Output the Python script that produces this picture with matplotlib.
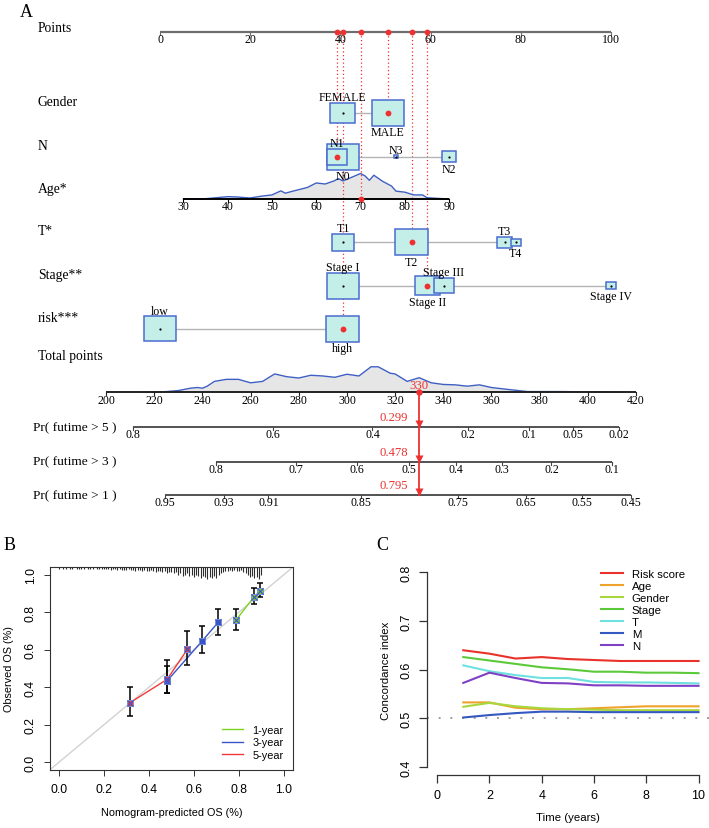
import numpy as np
import matplotlib
matplotlib.use("Agg")
import matplotlib.pyplot as plt
from matplotlib.patches import Rectangle
from matplotlib.lines import Line2D

plt.rcParams['font.family'] = ['Liberation Serif', 'DejaVu Serif']
SANS = ['Liberation Sans', 'DejaVu Sans']

# ======================= DATA =======================
points_ticks = [0, 20, 40, 60, 80, 100]

gender_levels = ['FEMALE', 'MALE']
gender_points = [40.5, 50.5]
gender_freq = [0.38, 0.62]

n_levels = ['N0', 'N1', 'N2', 'N3']
n_points = [40.6, 39.3, 64.1, 52.3]
n_freq = [0.63, 0.245, 0.116, 0.009]

t_levels = ['T1', 'T2', 'T3', 'T4']
t_points = [40.6, 55.8, 76.4, 78.9]
t_freq = [0.263, 0.573, 0.114, 0.05]

stage_levels = ['Stage I', 'Stage II', 'Stage III', 'Stage IV']
stage_points = [40.6, 59.3, 62.9, 100.0]
stage_freq = [0.495, 0.284, 0.181, 0.041]

risk_levels = ['low', 'high']
risk_points = [0.0, 40.5]
risk_freq = [0.49, 0.51]

age_ticks = [30, 40, 50, 60, 70, 80, 90]
age_scale_ages = [30, 90]
age_scale_points = [5.2, 64.1]
age_density_age = [30, 35, 40, 42, 45, 48, 50, 52, 53, 55, 58, 60, 62, 64, 65, 66, 68,
                   70, 71, 72, 73, 75, 77, 78, 80, 82, 84, 85, 87, 90]
age_density = [0, 0.3, 2.3, 2, 1, 3, 4, 8, 5.7, 8, 11.3, 15.7, 14.7, 17.7, 20, 17.7, 21.3,
               25, 22.7, 18.3, 23.3, 17.3, 12.7, 7.7, 6.7, 4, 4, 1.3, 0.7, 0]

total_ticks = list(range(200, 421, 20))
total_scale_tp = [200, 420]
total_scale_points = [-11.97, 105.54]
tp_density_tp = [215, 220, 225, 230, 235, 238, 240, 242, 245, 250, 255, 260, 265, 270, 275,
                 280, 285, 290, 295, 300, 305, 310, 313, 318, 320, 325, 330, 335, 340, 345,
                 350, 355, 360, 365, 370, 375, 380, 390, 400, 410, 415]
tp_density = [0, 0, 0.7, 1.7, 4, 4.7, 4, 6, 10.7, 12.7, 12.7, 9.3, 10.7, 18, 15.3,
              14, 16.7, 16, 14.7, 17.7, 16, 25, 25, 18.7, 18, 10.7, 14.3, 9.3, 7.7, 7.3,
              6, 7.3, 4.7, 3.3, 2, 0.7, 0.7, 0.7, 0.3, 0.3, 0]

prob_labels = ['Pr( futime > 5 )', 'Pr( futime > 3 )', 'Pr( futime > 1 )']
prob_ticks = [[0.8, 0.6, 0.4, 0.2, 0.1, 0.05, 0.02],
              [0.8, 0.7, 0.6, 0.5, 0.4, 0.3, 0.2, 0.1],
              [0.95, 0.93, 0.91, 0.85, 0.75, 0.65, 0.55, 0.45]]
prob_pred = [0.299, 0.478, 0.795]
tp_per_cloglog = 70.4

patient = {'Gender': 'MALE', 'N': 'N1', 'Age': 70, 'T': 'T2', 'Stage': 'Stage II', 'risk': 'high'}
total_points = 330

# calibration (panel B)
cal_names = ['1-year', '3-year', '5-year']
cal1_x = [0.788, 0.869, 0.896]
cal1_y = [0.759, 0.884, 0.915]
cal1_lo = [0.703, 0.844, 0.879]
cal1_hi = [0.817, 0.931, 0.954]
cal3_x = [0.481, 0.638, 0.708]
cal3_y = [0.434, 0.648, 0.746]
cal3_lo = [0.370, 0.581, 0.680]
cal3_hi = [0.515, 0.725, 0.817]
cal5_x = [0.314, 0.481, 0.571]
cal5_y = [0.316, 0.442, 0.602]
cal5_lo = [0.245, 0.370, 0.517]
cal5_hi = [0.400, 0.543, 0.700]
rug_x = np.round(np.arange(0.0, 0.905, 0.01), 2)
rug_counts = [1, 0, 1, 1, 0, 1, 1, 0, 1, 1,
              1, 1, 0, 1, 1, 1, 0, 1, 1, 1,
              1, 1, 1, 2, 1, 1, 2, 1, 2, 2,
              2, 1, 2, 2, 3, 2, 2, 3, 2, 3,
              3, 2, 3, 4, 3, 3, 4, 3, 5, 4,
              4, 5, 4, 6, 5, 7, 6, 5, 7, 6,
              8, 6, 7, 9, 7, 8, 10, 8, 9, 7,
              9, 6, 5, 4, 3, 3, 2, 3, 2, 3,
              3, 2, 4, 5, 6, 8, 7, 9, 8, 10,
              6]

# C-index (panel C)
years = [1, 2, 3, 4, 5, 6, 7, 8, 9, 10]
cidx_names = ['Risk score', 'Age', 'Gender', 'Stage', 'T', 'M', 'N']
cidx_risk = [0.640, 0.633, 0.623, 0.626, 0.622, 0.620, 0.618, 0.618, 0.618, 0.618]
cidx_age = [0.533, 0.533, 0.522, 0.519, 0.519, 0.521, 0.523, 0.525, 0.525, 0.525]
cidx_gender = [0.524, 0.532, 0.525, 0.521, 0.519, 0.518, 0.517, 0.517, 0.517, 0.517]
cidx_stage = [0.626, 0.619, 0.612, 0.605, 0.601, 0.596, 0.596, 0.594, 0.594, 0.593]
cidx_t = [0.609, 0.597, 0.589, 0.583, 0.583, 0.575, 0.574, 0.574, 0.573, 0.572]
cidx_m = [0.502, 0.507, 0.511, 0.514, 0.514, 0.513, 0.513, 0.513, 0.513, 0.513]
cidx_n = [0.573, 0.594, 0.583, 0.573, 0.572, 0.568, 0.568, 0.567, 0.567, 0.567]

# ======================= STYLE / LAYOUT =======================
W, H = 709, 829
fig = plt.figure(figsize=(W / 100, H / 100), dpi=100)

RED = '#EE3030'
BOX_FC = '#C4EFE9'
BOX_EC = '#4A6CD0'
DENS_FC = '#E6E6E6'
DENS_EC = '#3F5FC4'

PX_PT = 4.51
X0 = 160.0
ax = fig.add_axes([0, 0, 1, 1])
ax.set_xlim(-X0 / PX_PT, (W - X0) / PX_PT)
ax.set_ylim(H, 0)
ax.axis('off')


def px(xpix):
    return (xpix - X0) / PX_PT


rows = dict(Points=33, Gender=114, N=157.7, Age=200, T=243.3, Stage=286.7, risk=329.7,
            Total=393.3, p5=428, p3=462.7, p1=496)
row_label = [('Points', 28), ('Gender', 102), ('N', 146), ('Age*', 189), ('T*', 231),
             ('Stage**', 275), ('risk***', 318), ('Total points', 356)]
LBL_FS = 9.8
TICK_FS = 8.6
BOX_W = 32.5 / PX_PT
BOX_H = 25.7

ax.text(px(20), 12, 'A', fontsize=13, ha='left', va='center')
for name, y in row_label:
    ax.text(px(38), y, name, fontsize=LBL_FS, ha='left', va='center')


def age_to_pts(a):
    return np.interp(a, age_scale_ages, age_scale_points)


def tp_to_pts(tp):
    tp = np.asarray(tp, dtype=float)
    k = (total_scale_points[1] - total_scale_points[0]) / (total_scale_tp[1] - total_scale_tp[0])
    return total_scale_points[0] + (tp - total_scale_tp[0]) * k


def cll(p):
    p = np.asarray(p, dtype=float)
    return np.log(-np.log(p))


def hline_axis(x0, x1, y, ticks_x, labels, color='black', lw=1.3, fs=TICK_FS, tcolor='black'):
    ax.plot([x0, x1], [y, y], color=color, lw=lw, solid_capstyle='butt', zorder=3)
    for tx, lab in zip(ticks_x, labels):
        ax.plot([tx, tx], [y, y + 3], color=color, lw=0.8, zorder=3)
        ax.text(tx, y + 7.2, lab, fontsize=fs, ha='center', va='center', color=tcolor, zorder=3)


# Points axis
hline_axis(points_ticks[0], points_ticks[-1], rows['Points'], points_ticks,
           [str(t) for t in points_ticks], color='#6E6E6E', lw=1.6)

# patient points
pat_pts = {
    'Gender': gender_points[gender_levels.index(patient['Gender'])],
    'N': n_points[n_levels.index(patient['N'])],
    'Age': float(age_to_pts(patient['Age'])),
    'T': t_points[t_levels.index(patient['T'])],
    'Stage': stage_points[stage_levels.index(patient['Stage'])],
    'risk': risk_points[risk_levels.index(patient['risk'])],
}
for key, p in pat_pts.items():
    ax.plot([p, p], [rows['Points'], rows[key]], color=RED, ls=(0, (1, 2)), lw=0.9, zorder=1.5)
    ax.plot(p, rows['Points'], 'o', ms=4.2, color=RED, mec='none', zorder=10)


def draw_cat(levels, pts, freq, y, chosen):
    pts = np.asarray(pts, dtype=float)
    freq = np.asarray(freq, dtype=float)
    ax.plot([pts.min(), pts.max()], [y, y], color='#B4B4B4', lw=1.0, zorder=2)
    scale = np.sqrt(freq / freq.max())
    order = np.argsort(pts)
    rank = {int(i): r for r, i in enumerate(order)}
    for i, (lev, p, s) in enumerate(zip(levels, pts, scale)):
        w = BOX_W * s
        h = BOX_H * s
        z = 3 + i
        ax.add_patch(Rectangle((p - w / 2, y - h / 2), w, h, facecolor=BOX_FC,
                               edgecolor=BOX_EC, lw=1.1, zorder=z))
        ax.plot(p, y, 'o', ms=1.6, color='black', mec='none', zorder=z + 0.5)
        if rank[i] % 2 == 0:
            ax.text(p, y - h / 2 + 0.5, lev, fontsize=TICK_FS, ha='center', va='bottom', zorder=20)
        else:
            ax.text(p, y + h / 2 + 0.5, lev, fontsize=TICK_FS, ha='center', va='top', zorder=20)
        if lev == chosen:
            ax.plot(p, y, 'o', ms=4.2, color=RED, mec='none', zorder=30)


draw_cat(gender_levels, gender_points, gender_freq, rows['Gender'], patient['Gender'])
draw_cat(n_levels, n_points, n_freq, rows['N'], patient['N'])
draw_cat(t_levels, t_points, t_freq, rows['T'], patient['T'])
draw_cat(stage_levels, stage_points, stage_freq, rows['Stage'], patient['Stage'])
draw_cat(risk_levels, risk_points, risk_freq, rows['risk'], patient['risk'])

# Age axis with density
ya = rows['Age']
ax_age = age_to_pts(np.array(age_density_age))
dh = np.array(age_density) / max(age_density) * 25.5
ax.fill_between(ax_age, ya - dh, ya, color=DENS_FC, lw=0, zorder=1)
ax.plot(ax_age, ya - dh, color=DENS_EC, lw=1.0, zorder=2)
hline_axis(age_to_pts(age_ticks[0]), age_to_pts(age_ticks[-1]), ya, age_to_pts(age_ticks),
           [str(a) for a in age_ticks], color='black', lw=1.4)
ax.plot(pat_pts['Age'], ya, 'o', ms=4.2, color=RED, mec='none', zorder=30)

# Total points axis with density
yt = rows['Total']
tx = tp_to_pts(tp_density_tp)
th = np.array(tp_density) / max(tp_density) * 25.5
ax.fill_between(tx, yt - th, yt, color=DENS_FC, lw=0, zorder=1)
ax.plot(tx, yt - th, color=DENS_EC, lw=1.0, zorder=2)
hline_axis(tp_to_pts(total_ticks[0]), tp_to_pts(total_ticks[-1]), yt, tp_to_pts(total_ticks),
           [str(t) for t in total_ticks], color='#222222', lw=1.4)

# probability axes
xp = float(tp_to_pts(total_points))
prow = [rows['p5'], rows['p3'], rows['p1']]
for lab, ticks, pred, y in zip(prob_labels, prob_ticks, prob_pred, prow):
    tps = total_points + tp_per_cloglog * (cll(ticks) - cll(pred))
    xs = tp_to_pts(tps)
    ax.text(px(33), y, lab, fontsize=9.6, ha='left', va='center')
    hline_axis(xs[0], xs[-1], y, xs, [f'{t:g}' for t in ticks], color='#444444', lw=1.3)
    ax.text(xp - 11 / PX_PT, y - 10, f'{pred:.3f}', color=RED, fontsize=TICK_FS + 0.5,
            ha='right', va='center', zorder=30)
    ax.plot(xp, y - 3.2, marker='v', ms=6, color=RED, mec='none', zorder=30)

ax.plot([xp, xp], [yt, prow[-1]], color=RED, lw=1.3, zorder=29)
ax.plot(xp, yt, 'o', ms=4.6, color=RED, mec='none', zorder=30)
ax.text(xp, yt - 7, str(total_points), color=RED, fontsize=TICK_FS + 0.5, ha='center',
        va='center', zorder=30)

# ======================= PANEL B =======================
fig.text(4 / W, 1 - 545 / H, 'B', fontsize=13, ha='left', va='center')
axb = fig.add_axes([50 / W, 1 - 770.7 / H, (292.7 - 50) / W, (770.7 - 568.3) / H])
axb.set_xlim(-0.04, 1.04)
axb.set_ylim(-0.04, 1.04)
axb.plot([-0.04, 1.04], [-0.04, 1.04], color='#D2D2D2', lw=1.0, zorder=1)
ppx = 1.08 / (770.7 - 568.3)
axb.vlines(rug_x, 1.04 - np.array(rug_counts) * ppx * 1.2, 1.04, color='#2E2E2E', lw=0.8, zorder=2)

cal_cols = ['#7ED321', '#3A55C8', '#F03A3A']
cal_sets = [(cal1_x, cal1_y, cal1_lo, cal1_hi), (cal3_x, cal3_y, cal3_lo, cal3_hi),
            (cal5_x, cal5_y, cal5_lo, cal5_hi)]
for (cx, cy, lo, hi), col in zip(cal_sets, cal_cols):
    cx = np.array(cx); cy = np.array(cy)
    axb.plot(cx, cy, color=col, lw=1.0, zorder=3)
    axb.errorbar(cx, cy, yerr=[cy - np.array(lo), np.array(hi) - cy], fmt='none', ecolor='black',
                 elinewidth=1.1, capsize=2.3, capthick=1.1, zorder=4)
    axb.plot(cx, cy, 's', ms=5, mfc=col, mec='#7A8FD8', mew=0.7, zorder=5)
    axb.plot(cx, cy, 'x', ms=3.8, color='#3A55C8', mew=0.8, zorder=6)

axb.set_xticks([0, 0.2, 0.4, 0.6, 0.8, 1.0])
axb.set_yticks([0, 0.2, 0.4, 0.6, 0.8, 1.0])
axb.set_xticklabels(['0.0', '0.2', '0.4', '0.6', '0.8', '1.0'], family=SANS, fontsize=8.8)
axb.set_yticklabels(['0.0', '0.2', '0.4', '0.6', '0.8', '1.0'], family=SANS, fontsize=8.8,
                    rotation=90, va='center')
axb.tick_params(length=4.5, width=0.7, color='#333333', pad=5)
for s in axb.spines.values():
    s.set_linewidth(0.8)
    s.set_color('#333333')
axb.set_xlabel('Nomogram-predicted OS (%)', family=SANS, fontsize=7.8, labelpad=9)
axb.set_ylabel('Observed OS (%)', family=SANS, fontsize=7.8, labelpad=8)
hb = [Line2D([], [], color=c, lw=1.0) for c in cal_cols]
axb.legend(hb, cal_names, loc='upper left', bbox_to_anchor=(222 / W, 1 - 726 / H),
           bbox_transform=fig.transFigure, frameon=False, prop={'family': SANS, 'size': 7.8},
           handlelength=1.9, handletextpad=0.9, labelspacing=0.22, borderpad=0, borderaxespad=0)

# ======================= PANEL C =======================
fig.text(376 / W, 1 - 545 / H, 'C', fontsize=13, ha='left', va='center')
axc = fig.add_axes([426.7 / W, 1 - 776 / H, (W - 426.7) / W, (776 - 565.5) / H])
axc.set_xlim(-0.4, 10.4)
axc.set_ylim(0.384, 0.816)
axc.spines['top'].set_visible(False)
axc.spines['right'].set_visible(False)
axc.spines['left'].set_bounds(0.4, 0.8)
axc.spines['bottom'].set_bounds(0, 10)
for s in ('left', 'bottom'):
    axc.spines[s].set_linewidth(0.9)
    axc.spines[s].set_color('#333333')
axc.axhline(0.5, color='#A0A0A0', ls=(0, (1, 5)), lw=1.4, zorder=1)
c_cols = ['#E8322A', '#F0A32C', '#A6D83E', '#5CC93A', '#6FE0E0', '#3358C0', '#8040C4']
c_sets = [cidx_risk, cidx_age, cidx_gender, cidx_stage, cidx_t, cidx_m, cidx_n]
for vals, col, nm in zip(c_sets, c_cols, cidx_names):
    axc.plot(years, vals, color=col, lw=1.5, label=nm, zorder=3)
axc.set_xticks([0, 2, 4, 6, 8, 10])
axc.set_yticks([0.4, 0.5, 0.6, 0.7, 0.8])
axc.set_xticklabels(['0', '2', '4', '6', '8', '10'], family=SANS, fontsize=9)
axc.set_yticklabels(['0.4', '0.5', '0.6', '0.7', '0.8'], family=SANS, fontsize=9,
                    rotation=90, va='center')
axc.tick_params(length=6, width=0.9, color='#333333', pad=4)
axc.set_xlabel('Time (years)', family=SANS, fontsize=8.2, labelpad=8)
axc.set_ylabel('Concordance index', family=SANS, fontsize=8.2, labelpad=7)
axc.legend(loc='upper left', bbox_to_anchor=(601 / W, 1 - 570 / H), bbox_transform=fig.transFigure,
           frameon=False, prop={'family': SANS, 'size': 8.2}, handlelength=1.9, handletextpad=0.8,
           labelspacing=0.17, borderpad=0, borderaxespad=0)

fig.savefig('out.png', dpi=100)
